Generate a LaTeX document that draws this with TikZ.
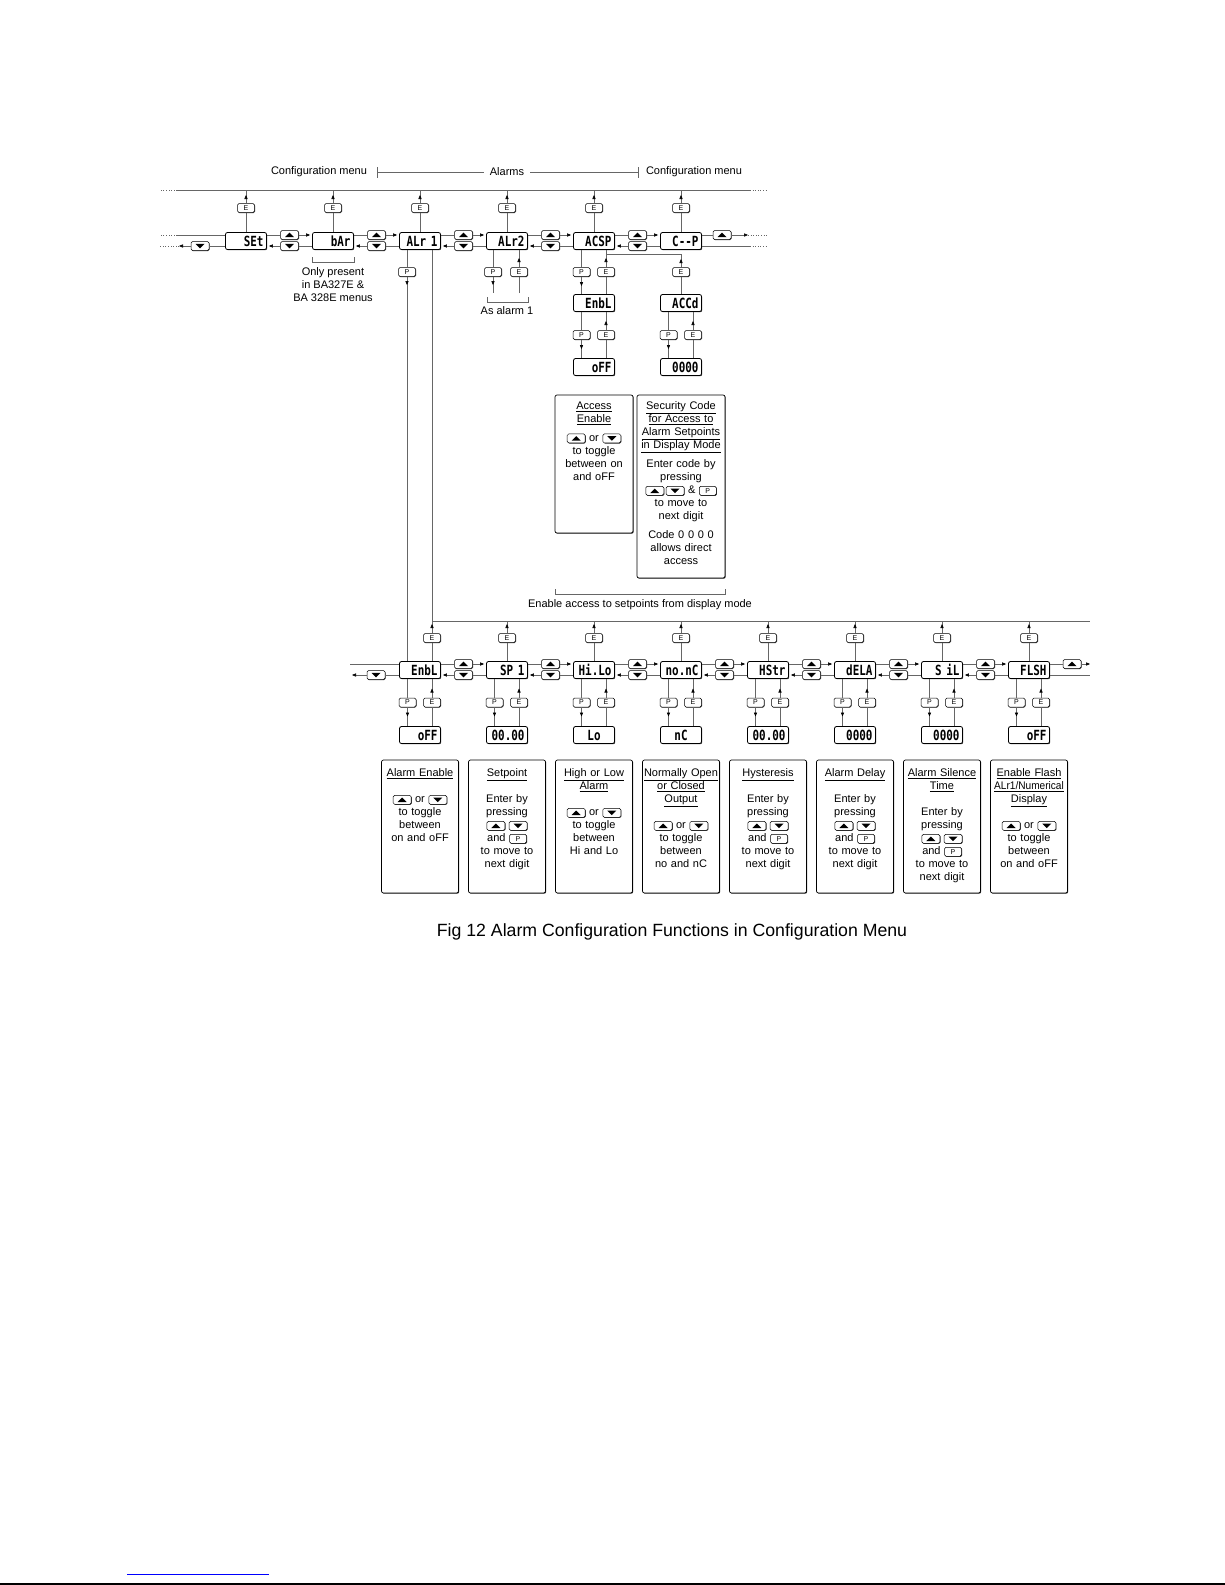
\documentclass[tikz,border=0pt]{standalone}
\usepackage{fontspec}
\setmainfont{Liberation Sans}
\newfontfamily\lcd[FakeStretch=0.78]{DejaVu Sans Mono}
\usetikzlibrary{arrows.meta,calc,shadows}

\tikzset{
  disp/.style={draw, line width=0.8pt, rounded corners=2pt, fill=white,
    drop shadow={shadow xshift=0.7pt, shadow yshift=-0.7pt, opacity=1, fill=black!80},
    minimum height=17pt, inner xsep=3pt, inner ysep=0pt,
    text width=35pt, align=right, font=\lcd\bfseries\fontsize{14}{14}\selectfont},
  key/.style={draw, line width=0.5pt, rounded corners=1.5pt, fill=white,
    drop shadow={shadow xshift=0.6pt, shadow yshift=-0.6pt, opacity=1, fill=black!80},
    minimum width=17pt, minimum height=9pt, inner sep=0pt, anchor=center,
    text width={}, align=center, font=\fontsize{7}{7}\selectfont},
  upkey/.style={key, minimum width=18pt,
    path picture={\fill[black, sharp corners] ([shift={(-4.5pt,-2.2pt)}]path picture bounding box.center)
      -- ++(9pt,0pt) -- ++(-4.5pt,4.5pt) -- cycle;}},
  dnkey/.style={key, minimum width=18pt,
    path picture={\fill[black, sharp corners] ([shift={(-4.5pt,2.2pt)}]path picture bounding box.center)
      -- ++(9pt,0pt) -- ++(-4.5pt,-4.5pt) -- cycle;}},
  infobox/.style={draw, line width=0.7pt, rounded corners=2pt, fill=white,
    drop shadow={shadow xshift=0.7pt, shadow yshift=-0.7pt, opacity=1, fill=black!80},
    minimum width=77pt},
  infotext/.style={anchor=north, align=center, inner sep=0pt, text width=76pt,
    font=\fontsize{11}{13}\selectfont},
  note/.style={align=center, inner sep=0pt, font=\fontsize{11}{13}\selectfont},
  wire/.style={draw=black!60, line width=0.6pt},
  tip/.style={wire, -{Triangle[length=4pt,width=3.2pt,color=black]}},
}
\newcommand{\keyup}{\tikz[baseline=-3pt]\node[upkey] (ku) {};}
\newcommand{\keydn}{\tikz[baseline=-3pt]\node[dnkey] (kd) {};}
\newcommand{\keyp}{\tikz[baseline=-3pt]\node[key] (kp) {P};}

\begin{document}
\begin{tikzpicture}[x=1pt, y=1pt]
\fill[white] (0,0) rectangle (1225,-1585);
\useasboundingbox (0,0) rectangle (1225,-1585);

% headings
\node[note, inner sep=4pt] (hdCfgA) at (319,-172) {Configuration menu};
\node[note, inner sep=6pt] (hdAlm) at (507,-172) {Alarms};
\node[note, inner sep=4pt] (hdCfgB) at (694,-172) {Configuration menu};

% top row
\node[disp] (SEt)  at (246,-241) {SEt};
\node[disp] (bAr)  at (333,-241) {bAr};
\node[disp] (ALrA) at (420,-241) {ALr 1};
\node[disp] (ALrB) at (507,-241) {ALr2};
\node[disp] (ACSP) at (594,-241) {ACSP};
\node[disp] (CP)   at (681,-241) {C{-}{-}P};
\node[disp] (EnbLa) at (594,-303) {EnbL};
\node[disp] (oFFa)  at (594,-367) {oFF};
\node[disp] (ACCd)  at (681,-303) {ACCd};
\node[disp] (cACCd) at (681,-367) {0000};

\node[key] (kSEt)  at (246,-208) {E};
\node[key] (kbAr)  at (333,-208) {E};
\node[key] (kALrA) at (420,-208) {E};
\node[key] (kALrB) at (507,-208) {E};
\node[key] (kACSP) at (594,-208) {E};
\node[key] (kCP)   at (681,-208) {E};
\node[key] (pALrA) at (407,-272) {P};
\node[key] (pALrB) at (493,-272) {P};
\node[key] (eALrB) at (519,-272) {E};
\node[key] (eACCd) at (681,-272) {E};
\node[dnkey] (td0) at (200,-246) {};
\node[upkey] (tu6) at (722,-235) {};

% lower row
\node[disp] (EnbLb) at (420,-670) {EnbL};
\node[disp] (SPA)   at (507,-670) {SP 1};
\node[disp] (HiLo)  at (594,-670) {Hi.Lo};
\node[disp] (nonC)  at (681,-670) {no.nC};
\node[disp] (HStr)  at (768,-670) {HStr};
\node[disp] (dELA)  at (855,-670) {dELA};
\node[disp] (SiL)   at (942,-670) {S iL};
\node[disp] (FLSH)  at (1029,-670) {FLSH};
\node[disp] (vEnbL) at (420,-735) {oFF};
\node[disp] (vSP)   at (507,-735) {00.00};
\node[disp, align=center] (vHiLo) at (594,-735) {Lo};
\node[disp, align=center] (vnonC) at (681,-735) {nC};
\node[disp] (vHStr) at (768,-735) {00.00};
\node[disp] (vdELA) at (855,-735) {0000};
\node[disp] (vSiL)  at (942,-735) {0000};
\node[disp] (vFLSH) at (1029,-735) {oFF};

\node[key] (kEnbLb) at (432,-638) {E};
\node[key] (kSPA)   at (507,-638) {E};
\node[key] (kHiLo)  at (594,-638) {E};
\node[key] (knonC)  at (681,-638) {E};
\node[key] (kHStr)  at (768,-638) {E};
\node[key] (kdELA)  at (855,-638) {E};
\node[key] (kSiL)   at (942,-638) {E};
\node[key] (kFLSH)  at (1029,-638) {E};
\node[dnkey] (bd0) at (376,-675) {};
\node[upkey] (bu8) at (1072,-664) {};

% boxes
\node[infobox, minimum width=78pt, minimum height=138pt] (bxAcc) at (594,-464) {};
\node[infobox, minimum width=88pt, minimum height=183pt] (bxSec) at (681,-486.5) {};
\node[infotext] (txAcc) at ([yshift=-7pt]bxAcc.north)
  {\underline{Access}\\\underline{Enable}\\[6pt]\keyup{} or \keydn\\to toggle\\between on\\and oFF};
\node[infotext, text width=86pt] (txSec) at ([yshift=-7pt]bxSec.north)
  {\underline{Security Code}\\\underline{for Access to}\\\underline{Alarm Setpoints}\\\underline{in Display Mode}\\[6pt]
   Enter code by\\pressing\\\keyup\,\keydn\ \& \keyp\\to move to\\next digit\\[6pt]
   Code 0 0 0 0\\allows direct\\access};

\node[infobox, minimum height=133pt] (bxEn)  at (420,-826.5) {};
\node[infobox, minimum height=133pt] (bxSP)  at (507,-826.5) {};
\node[infobox, minimum height=133pt] (bxHL)  at (594,-826.5) {};
\node[infobox, minimum height=133pt] (bxNO)  at (681,-826.5) {};
\node[infobox, minimum height=133pt] (bxHy)  at (768,-826.5) {};
\node[infobox, minimum height=133pt] (bxDl)  at (855,-826.5) {};
\node[infobox, minimum height=133pt] (bxSi)  at (942,-826.5) {};
\node[infobox, minimum height=133pt] (bxFl)  at (1029,-826.5) {};
\node[infotext] (txEn) at ([yshift=-9pt]bxEn.north)
  {\underline{Alarm Enable}\\[13pt]\keyup{} or \keydn\\to toggle\\between\\on and oFF};
\node[infotext] (txSP) at ([yshift=-9pt]bxSP.north)
  {\underline{Setpoint}\\[13pt]Enter by\\pressing\\\keyup\ \keydn\\and \keyp\\to move to\\next digit};
\node[infotext] (txHL) at ([yshift=-9pt]bxHL.north)
  {\underline{High or Low}\\\underline{Alarm}\\[13pt]\keyup{} or \keydn\\to toggle\\between\\Hi and Lo};
\node[infotext] (txNO) at ([yshift=-9pt]bxNO.north)
  {\underline{Normally Open}\\\underline{or Closed}\\\underline{Output}\\[13pt]\keyup{} or \keydn\\to toggle\\between\\no and nC};
\node[infotext] (txHy) at ([yshift=-9pt]bxHy.north)
  {\underline{Hysteresis}\\[13pt]Enter by\\pressing\\\keyup\ \keydn\\and \keyp\\to move to\\next digit};
\node[infotext] (txDl) at ([yshift=-9pt]bxDl.north)
  {\underline{Alarm Delay}\\[13pt]Enter by\\pressing\\\keyup\ \keydn\\and \keyp\\to move to\\next digit};
\node[infotext] (txSi) at ([yshift=-9pt]bxSi.north)
  {\underline{Alarm Silence}\\\underline{Time}\\[13pt]Enter by\\pressing\\\keyup\ \keydn\\and \keyp\\to move to\\next digit};
\node[infotext] (txFl) at ([yshift=-9pt]bxFl.north)
  {\underline{Enable Flash}\\\underline{\scalebox{0.92}[1]{ALr1/Numerical}}\\\underline{Display}\\[13pt]\keyup{} or \keydn\\to toggle\\between\\on and oFF};

\node[note] (onlyBA) at (333,-285) {Only present\\in BA327E \&\\BA 328E menus};
\node[note] (asAlm) at (507,-311) {As alarm 1};
\node[note] (encAcc) at (640,-605) {Enable access to setpoints from display mode};
\node[font=\fontsize{17.7}{20}\selectfont, inner sep=0pt] (caption) at (672,-932)
  {Fig 12 Alarm Configuration Functions in Configuration Menu};

% named points
\coordinate (topL) at (177,-190);
\coordinate (topR) at (750,-190);
\coordinate (lftU) at (177,-235);
\coordinate (lftD) at (179,-246);
\coordinate (rgtU) at (748,-235);
\coordinate (rgtD) at (750,-246);
\coordinate (asA)  at (507,-293);
\coordinate (jn)   at (681,-254);
\coordinate (rtnL) at (432,-621);
\coordinate (rtnR) at (1090,-621);
\coordinate (lftBU) at (350,-664);
\coordinate (lftBD) at (352,-675);
\coordinate (rgtBU) at (1090,-664);
\coordinate (rgtBD) at (1090,-675);

% heading rules
\draw[wire] (377,-167) -- (377,-178);
\draw[wire] (377,-172) -- (hdAlm.west);
\draw[wire] (hdAlm.east) -- (638,-172);
\draw[wire] (638,-167) -- (638,-178);

% top row wiring
\draw[wire] (topL) -- (topR);
\draw[wire, dotted] (topL) -- ++(-17,0);
\draw[wire, dotted] (topR) -- ++(18,0);
\foreach \n in {SEt,bAr,ALrA,ALrB,ACSP,CP} {
  \draw[wire] (\n) -- (k\n) -- (k\n |- topL);
  \draw[tip] (k\n) -- ([yshift=-5pt]k\n |- topL);
}
\foreach \a/\b [count=\i] in {SEt/bAr,bAr/ALrA,ALrA/ALrB,ALrB/ACSP,ACSP/CP} {
  \node[upkey] (tu\i) at ($(\a)!.5!(\b)+(0,6)$) {};
  \node[dnkey] (td\i) at ($(\a)!.5!(\b)+(0,-5)$) {};
  \draw[wire] (\a.east |- tu\i) -- (tu\i);
  \draw[tip] (tu\i) -- ([xshift=-2pt]\b.west |- tu\i);
  \draw[wire] (\b.west |- td\i) -- (td\i);
  \draw[tip] (td\i) -- ([xshift=2pt]\a.east |- td\i);
}
\draw[wire] (lftU) -- (SEt.west |- lftU);
\draw[wire, dotted] (lftU) -- ++(-17,0);
\draw[wire] (SEt.west |- td0) -- (td0);
\draw[tip] (td0) -- (lftD);
\draw[wire, dotted] (lftD) -- ++(-19,0);
\draw[wire] (CP.east |- tu6) -- (tu6);
\draw[tip] (tu6) -- (rgtU);
\draw[wire, dotted] (rgtU) -- ++(20,0);
\draw[wire] (CP.east |- rgtD) -- (rgtD);
\draw[wire, dotted] (rgtD) -- ++(18,0);

% sub menus
\draw[wire] (ALrA.south -| pALrA) -- (pALrA) -- (EnbLb.north -| pALrA);
\draw[tip] (pALrA) -- ++(0,-13);
\draw[wire] (ALrB.south -| pALrB) -- (pALrB) -- (pALrB |- asA);
\draw[tip] (pALrB) -- ++(0,-13);
\draw[wire] (eALrB |- asA) -- (eALrB) -- (ALrB.south -| eALrB);
\draw[tip] (eALrB) -- ++(0,14);
\draw[wire] (487,-297) -- (487,-302) -- (528,-302) -- (528,-297);
\draw[wire] (312,-257) -- (312,-262) -- (354,-262) -- (354,-257);
\foreach \a/\b in {ACSP/EnbLa,EnbLa/oFFa,ACCd/cACCd,EnbLb/vEnbL,SPA/vSP,HiLo/vHiLo,
    nonC/vnonC,HStr/vHStr,dELA/vdELA,SiL/vSiL,FLSH/vFLSH} {
  \node[key] (p\b) at ($(\a.south)!.5!(\b.north)+(-12.5,0)$) {P};
  \node[key] (e\b) at ($(\a.south)!.5!(\b.north)+(12,0)$) {E};
  \draw[wire] (\a.south -| p\b) -- (p\b) -- (\b.north -| p\b);
  \draw[tip] (p\b) -- ++(0,-14);
  \draw[wire] (\b.north -| e\b) -- (e\b) -- (\a.south -| e\b);
  \draw[tip] (e\b) -- ++(0,14);
}
\draw[wire] (ACCd) -- (eACCd) -- (jn) -- (jn -| eEnbLa);
\draw[tip] (eACCd) -- ++(0,13);
\draw[wire] (555,-589) -- (555,-594) -- (725,-594) -- (725,-589);

% lower row wiring
\draw[wire] (EnbLb.north -| kEnbLb) -- (kEnbLb) -- (ALrA.south -| kEnbLb);
\draw[tip] (kEnbLb) -- ([yshift=-3pt]rtnL);
\draw[wire] (rtnL) -- (rtnR);
\foreach \n in {SPA,HiLo,nonC,HStr,dELA,SiL,FLSH} {
  \draw[wire] (\n) -- (k\n) -- (k\n |- rtnL);
  \draw[tip] (k\n) -- ([yshift=-3pt]k\n |- rtnL);
}
\foreach \a/\b [count=\i] in {EnbLb/SPA,SPA/HiLo,HiLo/nonC,nonC/HStr,HStr/dELA,dELA/SiL,SiL/FLSH} {
  \node[upkey] (bu\i) at ($(\a)!.5!(\b)+(0,6)$) {};
  \node[dnkey] (bd\i) at ($(\a)!.5!(\b)+(0,-5)$) {};
  \draw[wire] (\a.east |- bu\i) -- (bu\i);
  \draw[tip] (bu\i) -- ([xshift=-2pt]\b.west |- bu\i);
  \draw[wire] (\b.west |- bd\i) -- (bd\i);
  \draw[tip] (bd\i) -- ([xshift=2pt]\a.east |- bd\i);
}
\draw[wire] (lftBU) -- (EnbLb.west |- lftBU);
\draw[wire] (EnbLb.west |- bd0) -- (bd0);
\draw[tip] (bd0) -- (lftBD);
\draw[wire] (FLSH.east |- bu8) -- (bu8);
\draw[tip] (bu8) -- (rgtBU);
\draw[wire] (FLSH.east |- rgtBD) -- (rgtBD);

% page foot
\draw[blue, line width=1pt] (127,-1574) -- (269,-1574);
\draw[line width=1.5pt] (0,-1584) -- (1225,-1584);
\end{tikzpicture}
\end{document}
